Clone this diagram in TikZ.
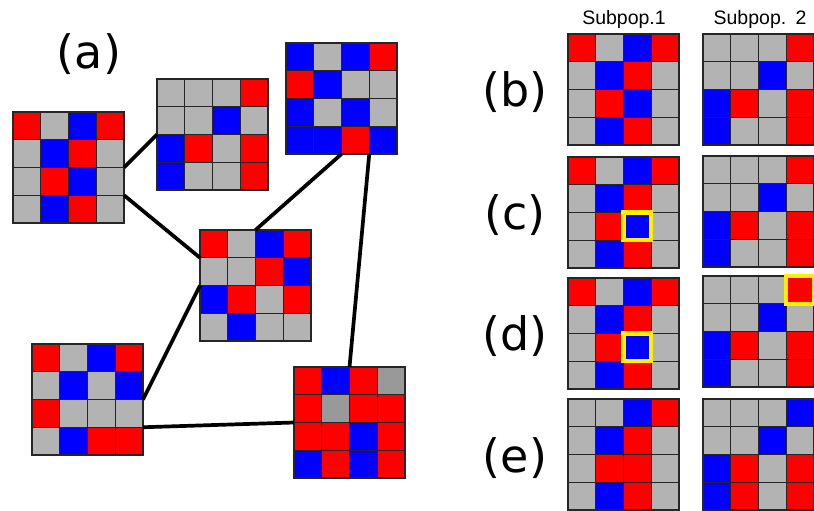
\documentclass[tikz,border=0pt]{standalone}
\usepackage{fontspec}
\setmainfont{DejaVu Sans}
\newfontfamily\titlefont{Liberation Sans}
\usetikzlibrary{calc}
\definecolor{cR}{RGB}{255,0,0}
\definecolor{cB}{RGB}{0,0,255}
\definecolor{cG}{RGB}{179,179,179}
\definecolor{cD}{RGB}{153,153,153}
\definecolor{cY}{RGB}{255,240,0}
\tikzset{
  gridbox/.style={rectangle, minimum size=111pt, inner sep=0pt, outer sep=0pt},
  cellbox/.style={draw=black!85, line width=1.1pt},
  link/.style={line width=3.7pt, black},
  hilite/.style={draw=cY, line width=4.2pt},
  panel/.style={font=\fontsize{46}{46}\selectfont, anchor=base, inner sep=0pt},
  coltitle/.style={font=\titlefont\fontsize{19.5}{19.5}\selectfont, anchor=base, inner sep=0pt},
}
\newcommand{\gridat}[3]{%
  \node[gridbox] (#1) at ($#2+(55.5,55.5)$) {};
  \foreach \c [count=\i from 0] in {#3} {
    \pgfmathtruncatemacro{\gcol}{mod(\i,4)}
    \pgfmathtruncatemacro{\grow}{div(\i,4)}
    \filldraw[cellbox, fill=c\c] ($(#1.north west)+(\gcol*27.75,\grow*27.75)$) rectangle ++(27.75,27.75);
  }
}
\newcommand{\hlcell}[3]{%
  \draw[hilite] ($(#1.north west)+(#3*27.75,#2*27.75)$) rectangle ++(27.75,27.75);
}
\begin{document}
\begin{tikzpicture}[x=1pt,y=-1pt]
\useasboundingbox (0,0) rectangle (814,511);
% (a) network
\gridat{A1}{(13,112)}{R,G,B,R, G,B,R,G, G,R,B,G, G,B,R,G}
\gridat{A2}{(157,79)}{G,G,G,R, G,G,B,G, B,R,G,R, B,G,G,R}
\gridat{A3}{(286,43)}{B,G,B,R, R,B,G,G, B,G,B,G, B,B,R,B}
\gridat{A4}{(200,230)}{R,G,B,R, G,G,R,B, B,R,G,R, G,B,G,G}
\gridat{A5}{(32,344)}{R,G,B,R, G,B,G,B, R,G,G,G, G,B,R,R}
\gridat{A6}{(294,367)}{R,B,R,D, R,D,R,R, R,R,B,R, B,R,B,R}
\draw[link] (A1.east) -- (A2.west);
\draw[link] ($(A1.east)+(0,27.75)$) -- ($(A4.west)+(0,-27.75)$);
\draw[link] (A4.north) -- (A3.south);
\draw[link] ($(A3.south)+(27.75,0)$) -- (A6.north);
\draw[link] (A4.west) -- (A5.east);
\draw[link] ($(A5.east)+(0,27.75)$) -- (A6.west);
% right panels
\gridat{B1}{(568,34)}{R,G,B,R, G,B,R,G, G,R,B,G, G,B,R,G}
\gridat{B2}{(703,34)}{G,G,G,R, G,G,B,G, B,R,G,R, B,G,G,R}
\gridat{C1}{(568,157)}{R,G,B,R, G,B,R,G, G,R,B,G, G,B,R,G}
\gridat{C2}{(703,156)}{G,G,G,R, G,G,B,G, B,R,G,R, B,G,G,R}
\gridat{D1}{(568,278)}{R,G,B,R, G,B,R,G, G,R,B,G, G,B,R,G}
\gridat{D2}{(703,276)}{G,G,G,R, G,G,B,G, B,R,G,R, B,G,G,R}
\gridat{E1}{(568,399)}{G,G,B,R, G,B,R,G, G,R,R,G, G,B,R,G}
\gridat{E2}{(703,399)}{G,G,G,B, G,G,B,G, B,R,G,R, B,R,G,R}
\hlcell{C1}{2}{2}
\hlcell{D1}{2}{2}
\hlcell{D2}{0}{3}
% labels
\node[panel] (la) at (89,69) {(a)};
\node[panel] (lb) at (515,106.5) {(b)};
\node[panel] (lc) at (515,229) {(c)};
\node[panel] (ld) at (515,350) {(d)};
\node[panel] (le) at (515,472) {(e)};
\node[coltitle] (t1) at (624,25) {Subpop.1};
\node[coltitle] (t2) at (760,25) {Subpop.\hspace{2pt} 2};
\end{tikzpicture}
\end{document}
